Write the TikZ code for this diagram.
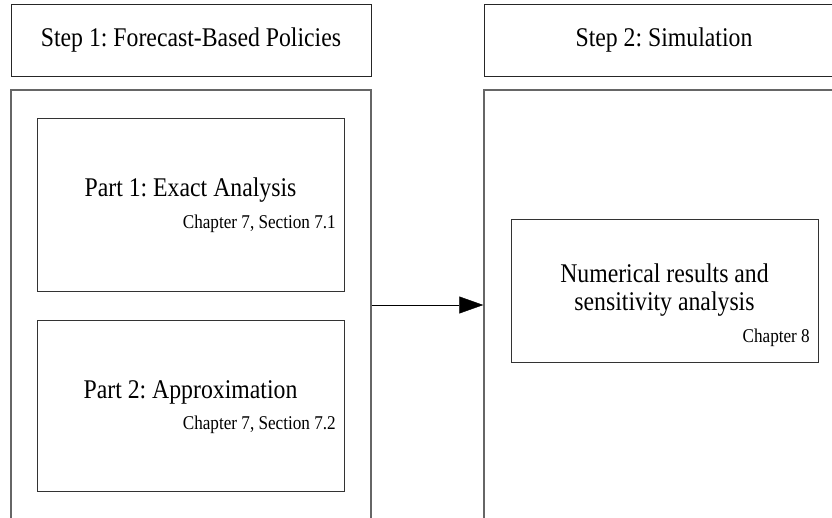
\documentclass[tikz,border=0pt]{standalone}
\usepackage{fontspec}
\setmainfont{Liberation Serif}
\newfontfamily\serre[FakeStretch=0.88]{Liberation Serif}
\usetikzlibrary{arrows.meta}
\frenchspacing
\begin{document}
\begin{tikzpicture}[x=1pt,y=-1pt]
\tikzset{headbox/.style={draw=black!85, line width=1pt, minimum width=360pt, minimum height=72pt, inner sep=0pt, font=\serre\fontsize{27}{30}\selectfont},
framebox/.style={draw=black!60, line width=1.5pt, minimum width=360pt, minimum height=430pt, inner sep=0pt},
partbox/.style={draw=black!80, line width=1pt, minimum width=307pt, inner sep=0pt},
titre/.style={font=\serre\fontsize{27}{28}\selectfont, align=center, inner sep=0pt, anchor=base},
renvoi/.style={font=\serre\fontsize{19.5}{22}\selectfont, inner sep=0pt, anchor=base east}}
\useasboundingbox (0,0) rectangle (832,517);
\clip (0,0) rectangle (832,517);
\node[headbox] (H1) at (191,40) {Step 1: Forecast-Based Policies};
\node[headbox] (H2) at (664,40) {Step 2: Simulation};
\node[framebox] (F1) at (191,305) {};
\node[framebox] (F2) at (664,305) {};
\node[partbox, minimum height=173pt] (P1) at (190.5,204.5) {};
\node[partbox, minimum height=171pt] (P2) at (190.5,405.5) {};
\node[partbox, minimum height=143pt] (S1) at (664.5,290.5) {};
\node[titre] (T1) at (190.5,196) {Part 1: Exact Analysis};
\node[renvoi] (C1) at (336,228) {Chapter 7, Section 7.1};
\node[titre] (T2) at (190.5,398) {Part 2: Approximation};
\node[renvoi] (C2) at (336,429) {Chapter 7, Section 7.2};
\node[titre] (T3) at (664.5,310) {Numerical results and\\ sensitivity analysis};
\node[renvoi] (C3) at (810,342) {Chapter 8};
\draw[-{Triangle[length=24pt,width=17pt]}] (F1.east) -- (F2.west);
\end{tikzpicture}
\end{document}
